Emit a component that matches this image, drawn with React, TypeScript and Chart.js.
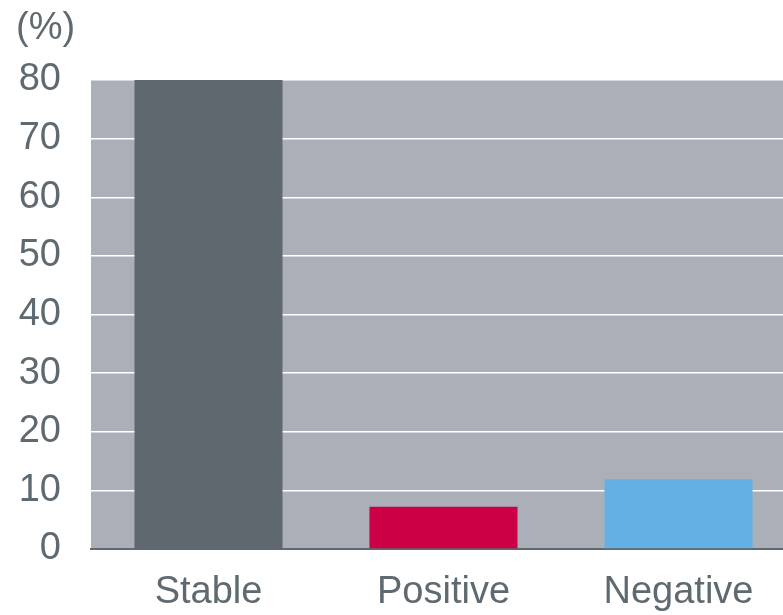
import React, { useEffect, useRef } from "react";
import { Chart, registerables } from "chart.js";

Chart.register(...registerables);

const categories = ["Stable", "Positive", "Negative"];
const values = [80, 7.2, 11.9];
const barColors = ["#5e686e", "#cc0044", "#64b0e4"];
const yTicks = [0, 10, 20, 30, 40, 50, 60, 70, 80];
const unitLabel = "(%)";

const FONT = "'Liberation Sans', Arial, sans-serif";
const TEXT = "#5f6a70";

const bgPlugin = {
  id: "plotBg",
  beforeDraw(chart: any) {
    const { ctx, chartArea } = chart;
    ctx.save();
    ctx.fillStyle = "#abb0b8";
    ctx.fillRect(chartArea.left, chartArea.top, chartArea.right - chartArea.left, chartArea.bottom - chartArea.top);
    ctx.restore();
  },
  afterDraw(chart: any) {
    const { ctx } = chart;
    ctx.save();
    ctx.fillStyle = TEXT;
    ctx.font = `38px ${FONT}`;
    ctx.textAlign = "left";
    ctx.textBaseline = "middle";
    ctx.fillText(unitLabel, 16, 29);
    ctx.restore();
  },
};

export default function App() {
  const ref = useRef<HTMLCanvasElement>(null);
  useEffect(() => {
    if (!ref.current) return;
    const chart = new Chart(ref.current, {
      type: "bar",
      data: {
        labels: categories,
        datasets: [
          {
            data: values,
            backgroundColor: barColors,
            borderWidth: 0,
            barPercentage: 0.63,
            categoryPercentage: 1,
          },
        ],
      },
      options: {
        animation: false,
        responsive: false,
        maintainAspectRatio: false,
        layout: { padding: { top: 80, left: 0, right: 0, bottom: 0 } },
        plugins: { legend: { display: false }, tooltip: { enabled: false } },
        scales: {
          x: {
            grid: { display: false, drawTicks: false },
            border: { display: true, color: "#5f6a70", width: 2 },
            ticks: { color: TEXT, font: { family: FONT, size: 38 }, padding: 21 },
            afterFit(scale: any) {
              scale.height = 66;
            },
          },
          y: {
            min: 0,
            max: 80,
            afterBuildTicks(scale: any) {
              scale.ticks = yTicks.map((v) => ({ value: v }));
            },
            grid: { color: "#ffffff", lineWidth: 1.5, drawTicks: false },
            border: { display: false },
            ticks: { color: TEXT, font: { family: FONT, size: 38 }, padding: 30 },
            afterFit(scale: any) {
              scale.width = 91;
            },
          },
        },
      },
      plugins: [bgPlugin],
    });
    return () => chart.destroy();
  }, []);
  return (
    <div style={{ position: "fixed", left: 0, top: 0, width: 783, height: 615, overflow: "hidden", background: "#fff" }}>
      <canvas ref={ref} width={796} height={615} style={{ width: 796, height: 615, display: "block" }} />
    </div>
  );
}
